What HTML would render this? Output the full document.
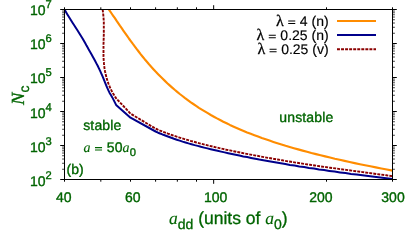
<!DOCTYPE html>
<html><head><meta charset="utf-8"><title>plot</title>
<style>html,body{margin:0;padding:0;background:#fff;width:407px;height:243px;overflow:hidden}</style>
</head><body>
<svg width="407" height="243" viewBox="0 0 407 243" style="display:block;position:absolute;left:0;top:0;will-change:transform" text-rendering="geometricPrecision">
<rect width="407" height="243" fill="#fff"/>
<defs><clipPath id="c"><rect x="64.5" y="9.5" width="328.0" height="170.0"/></clipPath></defs>
<g clip-path="url(#c)" fill="none" stroke-width="2.15" stroke-linejoin="round">
<path d="M108.4,8.9 L110.0,11.2 L111.6,13.5 L113.2,15.8 L114.9,18.2 L116.5,20.7 L118.2,23.2 L119.9,25.7 L121.7,28.2 L123.5,30.8 L125.3,33.3 L127.1,35.9 L128.9,38.5 L130.8,41.1 L132.7,43.7 L134.7,46.3 L136.6,48.9 L138.6,51.5 L140.6,54.1 L142.7,56.7 L144.7,59.2 L146.9,61.8 L149.0,64.3 L151.2,66.7 L153.4,69.2 L155.6,71.6 L157.9,74.0 L160.2,76.3 L162.5,78.6 L164.9,80.9 L167.3,83.2 L169.7,85.4 L172.2,87.6 L174.7,89.8 L177.2,91.9 L179.8,94.0 L182.4,96.0 L185.1,98.1 L187.8,100.1 L190.5,102.1 L193.3,104.0 L196.1,105.9 L198.9,107.8 L201.8,109.6 L204.8,111.4 L207.8,113.2 L210.8,115.0 L213.9,116.7 L217.0,118.4 L220.1,120.0 L223.3,121.7 L226.6,123.3 L229.9,124.9 L233.2,126.4 L236.6,127.9 L240.1,129.4 L243.6,130.9 L247.1,132.4 L250.7,133.8 L254.4,135.2 L258.1,136.6 L261.8,138.0 L265.7,139.3 L269.5,140.6 L273.4,141.9 L277.4,143.2 L281.5,144.5 L285.6,145.8 L289.7,147.0 L293.9,148.2 L298.2,149.4 L302.6,150.6 L307.0,151.8 L311.4,153.0 L316.0,154.1 L320.6,155.3 L325.2,156.4 L330.0,157.5 L334.8,158.7 L339.7,159.8 L344.6,160.9 L349.6,162.0 L354.7,163.1 L359.9,164.2 L365.1,165.2 L370.4,166.3 L375.8,167.4 L381.3,168.5 L386.9,169.5 L392.5,170.6" stroke="#ff8c00"/>
<path d="M64.5,9.5 L65.8,11.8 L67.1,14.0 L68.5,16.3 L69.9,18.5 L71.3,20.8 L72.7,23.0 L74.2,25.3 L75.6,27.5 L77.1,29.8 L78.5,32.0 L79.9,34.3 L81.3,36.5 L82.7,38.8 L84.0,41.1 L85.3,43.3 L86.5,45.6 L87.8,47.8 L89.0,50.1 L90.3,52.3 L91.6,54.6 L92.8,56.8 L94.1,59.1 L95.3,61.3 L96.5,63.6 L97.7,65.8 L98.8,68.1 L99.9,70.4 L100.9,72.6 L101.9,74.9 L102.9,77.1 L103.8,79.4 L104.7,81.6 L105.6,83.9 L106.5,86.1 L107.5,88.4 L108.5,90.6 L109.6,92.9 L110.9,95.1 L112.3,97.4 L116.1,104.9 L130.5,117.7 L155.6,131.5 L158.1,132.7 L160.7,133.7 L163.3,134.8 L165.9,135.8 L168.6,136.8 L171.3,137.8 L174.0,138.8 L176.8,139.7 L179.7,140.6 L182.6,141.6 L185.5,142.5 L188.5,143.4 L191.5,144.2 L194.6,145.1 L197.7,145.9 L200.9,146.8 L204.1,147.6 L207.4,148.4 L210.7,149.2 L214.1,150.0 L217.6,150.8 L221.1,151.6 L224.6,152.4 L228.2,153.2 L231.9,154.0 L235.6,154.8 L239.4,155.6 L243.3,156.4 L247.2,157.1 L251.1,157.9 L255.2,158.7 L259.3,159.5 L263.4,160.2 L267.7,161.0 L272.0,161.8 L276.4,162.6 L280.8,163.3 L285.3,164.1 L289.9,164.9 L294.6,165.6 L299.3,166.4 L304.1,167.1 L309.0,167.9 L314.0,168.6 L319.0,169.4 L324.1,170.1 L329.3,170.9 L334.6,171.6 L340.0,172.4 L345.5,173.1 L351.0,173.9 L356.7,174.6 L362.4,175.3 L368.2,176.1 L374.2,176.8 L380.2,177.5 L386.3,178.3 L392.5,179.0" stroke="#00008b" stroke-width="2"/>
<path d="M102.6,9.5 L102.9,11.3 L103.1,13.1 L103.3,14.9 L103.4,16.8 L103.6,18.6 L103.7,20.4 L103.8,22.2 L103.8,24.0 L103.8,25.8 L103.8,27.6 L103.8,29.5 L103.8,31.3 L103.8,33.1 L103.8,34.9 L103.7,36.7 L103.7,38.5 L103.6,40.3 L103.6,42.2 L103.5,44.0 L103.5,45.8 L103.5,47.6 L103.5,49.4 L103.5,51.2 L103.5,53.0 L103.5,54.9 L103.5,56.7 L103.6,58.5 L103.7,60.3 L103.9,62.1 L104.0,63.9 L104.2,65.7 L104.4,67.6 L104.7,69.4 L105.0,71.2 L105.4,73.0 L105.8,74.8 L106.2,76.6 L106.7,78.4 L107.3,80.3 L107.9,82.1 L108.5,83.9 L109.3,85.7 L110.0,87.5 L110.9,89.3 L111.8,91.1 L112.8,93.0 L113.9,94.8 L115.0,96.6 L116.2,98.4 L130.5,113.6 L155.6,128.7 L157.6,129.5 L160.1,130.6 L162.7,131.6 L165.3,132.6 L167.9,133.6 L170.5,134.5 L173.2,135.5 L176.0,136.4 L178.8,137.3 L181.6,138.2 L184.5,139.1 L187.4,139.9 L190.4,140.8 L193.4,141.6 L196.5,142.5 L199.6,143.3 L202.8,144.1 L206.0,144.9 L209.2,145.7 L212.5,146.5 L215.9,147.3 L219.3,148.1 L222.8,148.9 L226.3,149.7 L229.9,150.4 L233.6,151.2 L237.3,152.0 L241.0,152.7 L244.9,153.5 L248.7,154.2 L252.7,155.0 L256.7,155.7 L260.8,156.5 L264.9,157.3 L269.1,158.0 L273.4,158.8 L277.7,159.5 L282.1,160.3 L286.6,161.1 L291.1,161.8 L295.7,162.6 L300.4,163.3 L305.2,164.1 L310.0,164.8 L314.9,165.5 L319.9,166.3 L325.0,167.0 L330.1,167.7 L335.4,168.4 L340.7,169.2 L346.1,169.9 L351.6,170.6 L357.2,171.4 L362.8,172.1 L368.6,172.9 L374.4,173.7 L380.3,174.5 L386.4,175.3 L392.5,176.2" stroke="#8b0000" stroke-width="1.9" stroke-dasharray="2.95 1.1"/>
</g>
<g fill="none" stroke-width="2">
<path d="M337,20.95H376" stroke="#ff8c00"/>
<path d="M337,34.95H376" stroke="#00008b"/>
<path d="M337,49.2H376" stroke="#8b0000" stroke-dasharray="2.95 1.1"/>
</g>
<path d="M60.2,179.5H64.5M392.5,179.5H396.8" stroke="#000" stroke-width="1"/><path d="M62.1,169.26H64.5M392.5,169.26H394.9" stroke="#000" stroke-width="0.75"/><path d="M62.1,163.28H64.5M392.5,163.28H394.9" stroke="#000" stroke-width="0.75"/><path d="M62.1,159.03H64.5M392.5,159.03H394.9" stroke="#000" stroke-width="0.75"/><path d="M62.1,155.74H64.5M392.5,155.74H394.9" stroke="#000" stroke-width="0.75"/><path d="M62.1,153.04H64.5M392.5,153.04H394.9" stroke="#000" stroke-width="0.75"/><path d="M62.1,150.77H64.5M392.5,150.77H394.9" stroke="#000" stroke-width="0.75"/><path d="M62.1,148.79H64.5M392.5,148.79H394.9" stroke="#000" stroke-width="0.75"/><path d="M62.1,147.06H64.5M392.5,147.06H394.9" stroke="#000" stroke-width="0.75"/><path d="M60.2,145.5H64.5M392.5,145.5H396.8" stroke="#000" stroke-width="1"/><path d="M62.1,135.26H64.5M392.5,135.26H394.9" stroke="#000" stroke-width="0.75"/><path d="M62.1,129.28H64.5M392.5,129.28H394.9" stroke="#000" stroke-width="0.75"/><path d="M62.1,125.03H64.5M392.5,125.03H394.9" stroke="#000" stroke-width="0.75"/><path d="M62.1,121.74H64.5M392.5,121.74H394.9" stroke="#000" stroke-width="0.75"/><path d="M62.1,119.04H64.5M392.5,119.04H394.9" stroke="#000" stroke-width="0.75"/><path d="M62.1,116.77H64.5M392.5,116.77H394.9" stroke="#000" stroke-width="0.75"/><path d="M62.1,114.79H64.5M392.5,114.79H394.9" stroke="#000" stroke-width="0.75"/><path d="M62.1,113.06H64.5M392.5,113.06H394.9" stroke="#000" stroke-width="0.75"/><path d="M60.2,111.5H64.5M392.5,111.5H396.8" stroke="#000" stroke-width="1"/><path d="M62.1,101.26H64.5M392.5,101.26H394.9" stroke="#000" stroke-width="0.75"/><path d="M62.1,95.28H64.5M392.5,95.28H394.9" stroke="#000" stroke-width="0.75"/><path d="M62.1,91.03H64.5M392.5,91.03H394.9" stroke="#000" stroke-width="0.75"/><path d="M62.1,87.74H64.5M392.5,87.74H394.9" stroke="#000" stroke-width="0.75"/><path d="M62.1,85.04H64.5M392.5,85.04H394.9" stroke="#000" stroke-width="0.75"/><path d="M62.1,82.77H64.5M392.5,82.77H394.9" stroke="#000" stroke-width="0.75"/><path d="M62.1,80.79H64.5M392.5,80.79H394.9" stroke="#000" stroke-width="0.75"/><path d="M62.1,79.06H64.5M392.5,79.06H394.9" stroke="#000" stroke-width="0.75"/><path d="M60.2,77.5H64.5M392.5,77.5H396.8" stroke="#000" stroke-width="1"/><path d="M62.1,67.26H64.5M392.5,67.26H394.9" stroke="#000" stroke-width="0.75"/><path d="M62.1,61.28H64.5M392.5,61.28H394.9" stroke="#000" stroke-width="0.75"/><path d="M62.1,57.03H64.5M392.5,57.03H394.9" stroke="#000" stroke-width="0.75"/><path d="M62.1,53.74H64.5M392.5,53.74H394.9" stroke="#000" stroke-width="0.75"/><path d="M62.1,51.04H64.5M392.5,51.04H394.9" stroke="#000" stroke-width="0.75"/><path d="M62.1,48.77H64.5M392.5,48.77H394.9" stroke="#000" stroke-width="0.75"/><path d="M62.1,46.79H64.5M392.5,46.79H394.9" stroke="#000" stroke-width="0.75"/><path d="M62.1,45.06H64.5M392.5,45.06H394.9" stroke="#000" stroke-width="0.75"/><path d="M60.2,43.5H64.5M392.5,43.5H396.8" stroke="#000" stroke-width="1"/><path d="M62.1,33.26H64.5M392.5,33.26H394.9" stroke="#000" stroke-width="0.75"/><path d="M62.1,27.28H64.5M392.5,27.28H394.9" stroke="#000" stroke-width="0.75"/><path d="M62.1,23.03H64.5M392.5,23.03H394.9" stroke="#000" stroke-width="0.75"/><path d="M62.1,19.74H64.5M392.5,19.74H394.9" stroke="#000" stroke-width="0.75"/><path d="M62.1,17.04H64.5M392.5,17.04H394.9" stroke="#000" stroke-width="0.75"/><path d="M62.1,14.77H64.5M392.5,14.77H394.9" stroke="#000" stroke-width="0.75"/><path d="M62.1,12.79H64.5M392.5,12.79H394.9" stroke="#000" stroke-width="0.75"/><path d="M62.1,11.06H64.5M392.5,11.06H394.9" stroke="#000" stroke-width="0.75"/><path d="M60.2,9.5H64.5M392.5,9.5H396.8" stroke="#000" stroke-width="1"/><path d="M64.50,179.5V181.7M64.50,9.5V7.3" stroke="#000" stroke-width="1"/><path d="M100.82,179.5V181.7M100.82,9.5V7.3" stroke="#000" stroke-width="1"/><path d="M130.50,179.5V181.7M130.50,9.5V7.3" stroke="#000" stroke-width="1"/><path d="M155.60,179.5V181.7M155.60,9.5V7.3" stroke="#000" stroke-width="1"/><path d="M177.34,179.5V181.7M177.34,9.5V7.3" stroke="#000" stroke-width="1"/><path d="M196.51,179.5V181.7M196.51,9.5V7.3" stroke="#000" stroke-width="1"/><path d="M213.66,179.5V183.8M213.66,9.5V5.2" stroke="#000" stroke-width="1"/><path d="M326.50,179.5V181.7M326.50,9.5V7.3" stroke="#000" stroke-width="1"/><path d="M392.50,179.5V181.7M392.50,9.5V7.3" stroke="#000" stroke-width="1"/>
<rect x="64.5" y="9.5" width="328.0" height="170.0" fill="none" stroke="#000" stroke-width="1"/>
<g font-family="Liberation Sans, sans-serif" font-size="14" fill="#006400" stroke="#006400" stroke-width="0.35" stroke-linejoin="round">
<text x="30" y="185.5">10<tspan font-size="11.2" dy="-7">2</tspan></text>
<text x="30" y="151.5">10<tspan font-size="11.2" dy="-7">3</tspan></text>
<text x="30" y="117.6">10<tspan font-size="11.2" dy="-7">4</tspan></text>
<text x="30" y="83.2">10<tspan font-size="11.2" dy="-7">5</tspan></text>
<text x="30" y="48.9">10<tspan font-size="11.2" dy="-7">6</tspan></text>
<text x="30" y="14.7">10<tspan font-size="11.2" dy="-7">7</tspan></text>
<text x="63.8" y="202.4" text-anchor="middle">40</text>
<text x="132.8" y="202.4" text-anchor="middle">60</text>
<text x="215.6" y="202.4" text-anchor="middle">100</text>
<text x="320.9" y="202.4" text-anchor="middle">200</text>
<text x="393.0" y="202.4" text-anchor="middle">300</text>
<text x="83.2" y="129.6" letter-spacing="0.15">stable</text>
<text x="279.3" y="121.6" letter-spacing="0.15">unstable</text>
<text x="66.6" y="173.8">(b)</text>
<text x="83.4" y="152.2" letter-spacing="0.1"><tspan font-family="Liberation Serif, serif" font-style="italic" stroke-width="0.12">a</tspan><tspan class="eq" visibility="hidden"> = </tspan>50<tspan font-family="Liberation Serif, serif" font-style="italic" stroke-width="0.12">a</tspan><tspan font-size="11.2" dy="4.2">0</tspan></text>
</g>
<g font-family="Liberation Sans, sans-serif" font-size="17.5" fill="#006400" stroke="#006400" stroke-width="0.3" stroke-linejoin="round">
<text x="169" y="224"><tspan font-family="Liberation Serif, serif" font-style="italic" stroke-width="0.12">a</tspan><tspan font-size="14" dy="5">dd</tspan><tspan dy="-5"> (units of </tspan><tspan font-family="Liberation Serif, serif" font-style="italic" stroke-width="0.12">a</tspan><tspan font-size="14" dy="5">0</tspan><tspan dy="-5">)</tspan></text>
<text transform="translate(24.2,104.9) rotate(-90)"><tspan font-family="Liberation Serif, serif" font-style="italic" font-size="18.5">N</tspan><tspan font-size="14" dy="5">c</tspan></text>
</g>
<g font-family="Liberation Sans, sans-serif" font-size="14" fill="#000" stroke="#000" stroke-width="0.15" stroke-linejoin="round" text-anchor="end">
<text x="328.6" y="25.6"><tspan font-family="Liberation Serif, serif" font-size="16" stroke-width="0.3">λ</tspan><tspan class="eq" visibility="hidden"> = </tspan>4 (n)</text>
<text x="328.6" y="39.8"><tspan font-family="Liberation Serif, serif" font-size="16" stroke-width="0.3">λ</tspan><tspan class="eq" visibility="hidden"> = </tspan>0.25 (n)</text>
<text x="328.6" y="53.9"><tspan font-family="Liberation Serif, serif" font-size="16" stroke-width="0.3">λ</tspan><tspan class="eq" visibility="hidden"> = </tspan>0.25 (v)</text>
</g>
<path d="M94.99,147.60h7.05M94.99,150.05h7.05" stroke="#006400" stroke-width="1.05" fill="none"/>
<path d="M288.21,21.00h7.05M288.21,23.45h7.05" stroke="#000" stroke-width="1.05" fill="none"/>
<path d="M268.76,35.20h7.05M268.76,37.65h7.05" stroke="#000" stroke-width="1.05" fill="none"/>
<path d="M269.54,49.30h7.05M269.54,51.75h7.05" stroke="#000" stroke-width="1.05" fill="none"/>
</svg>
</body></html>
